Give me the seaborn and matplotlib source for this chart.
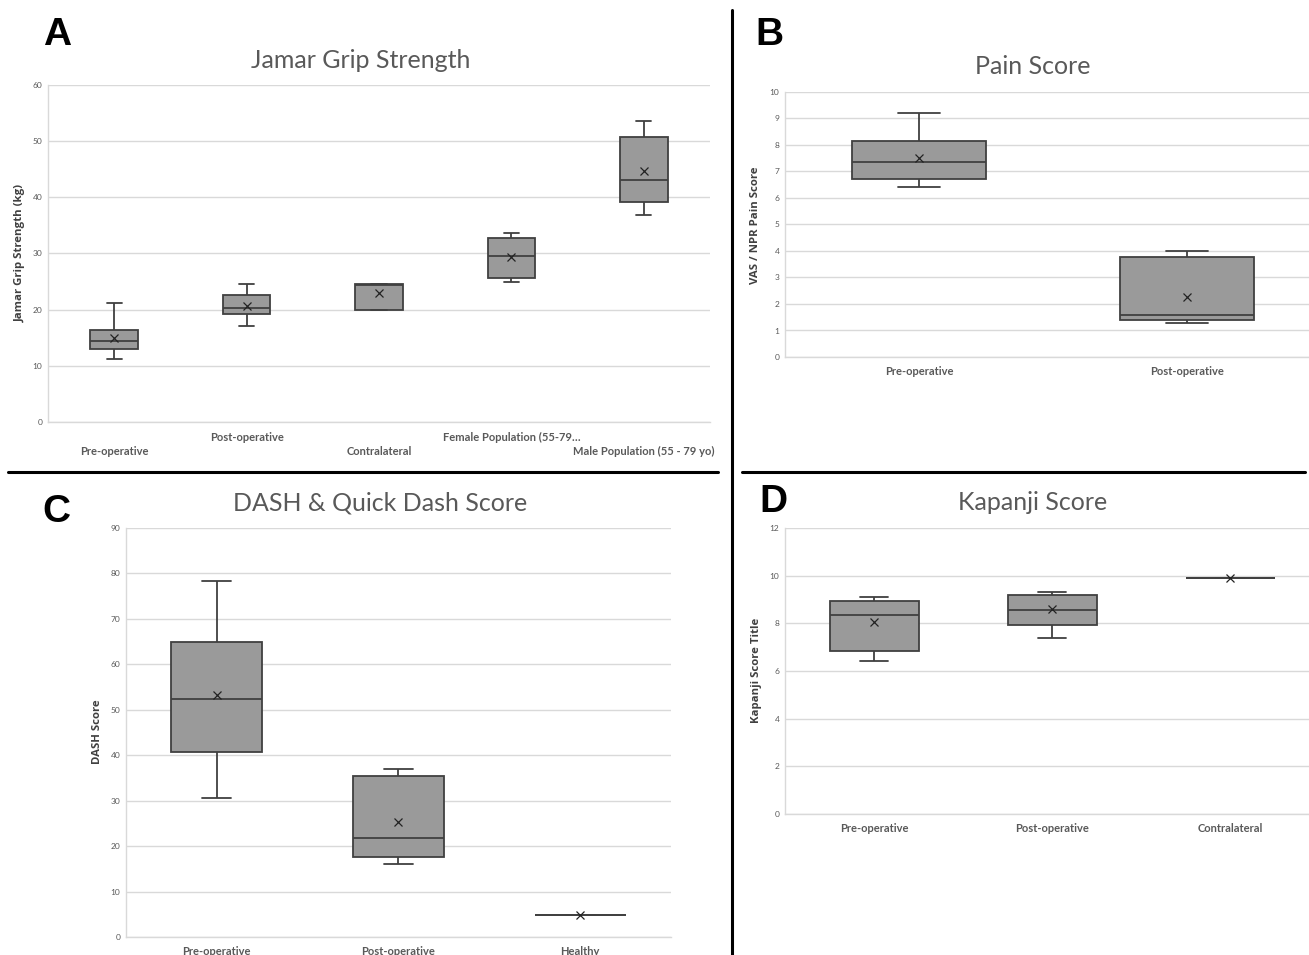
import numpy as np
import pandas as pd
import matplotlib
matplotlib.use("Agg")
import matplotlib.pyplot as plt
import seaborn as sns

# Panel A - Jamar grip strength (kg)
grip_groups = ["Pre-operative", "Post-operative", "Contralateral",
               "Female Population (55-79…", "Male Population (55 - 79 yo)"]
grip_min = [11.3, 17.1, 20.0, 25.0, 36.8]
grip_q1 = [13.0, 19.2, 20.0, 25.7, 39.2]
grip_median = [14.4, 20.3, 24.4, 29.5, 43.1]
grip_q3 = [16.4, 22.6, 24.6, 32.8, 50.8]
grip_max = [21.1, 24.5, 24.6, 33.6, 53.6]
grip_mean = [15.0, 20.6, 23.0, 29.4, 44.6]

# Panel B - pain score
pain_groups = ["Pre-operative", "Post-operative"]
pain_min = [6.4, 1.3]
pain_q1 = [6.7, 1.38]
pain_median = [7.35, 1.57]
pain_q3 = [8.15, 3.78]
pain_max = [9.2, 4.0]
pain_mean = [7.5, 2.25]

# Panel C - DASH score
dash_groups = ["Pre-operative", "Post-operative", "Healthy"]
dash_min = [30.6, 16.1, 4.9]
dash_q1 = [40.8, 17.6, 4.9]
dash_median = [52.3, 21.7, 4.9]
dash_q3 = [65.0, 35.5, 4.9]
dash_max = [78.4, 37.0, 4.9]
dash_mean = [53.2, 25.3, 4.9]

# Panel D - Kapanji score
kap_groups = ["Pre-operative", "Post-operative", "Contralateral"]
kap_min = [6.4, 7.4, 9.9]
kap_q1 = [6.85, 7.95, 9.9]
kap_median = [8.35, 8.55, 9.9]
kap_q3 = [8.95, 9.2, 9.9]
kap_max = [9.1, 9.3, 9.9]
kap_mean = [8.05, 8.6, 9.9]

W, H = 1309, 955
BOX_FILL = "#9a9a9a"
BOX_LINE = "#404040"
GRID = "#d9d9d9"
TEXT = "#595959"

sns.set_style("white")
plt.rcParams["font.family"] = ["Lato", "DejaVu Sans"]

fig = plt.figure(figsize=(W / 100, H / 100), dpi=100)


def px_axes(left, top, right, bottom):
    return fig.add_axes([left / W, 1 - bottom / H, (right - left) / W, (bottom - top) / H])


def draw_panel(ax, groups, mins, q1s, meds, q3s, maxs, means, ymax, ystep, width, stagger=False):
    rows = []
    for g, a, b, c, d, e in zip(groups, mins, q1s, meds, q3s, maxs):
        for v in (a, b, c, d, e):
            rows.append({"group": g, "value": v})
    box_df = pd.DataFrame(rows)
    mean_df = pd.DataFrame({"group": groups, "value": means})

    sns.boxplot(data=box_df, x="group", y="value", order=groups, whis=(0, 100),
                width=width, color=BOX_FILL, linecolor=BOX_LINE, linewidth=1.3,
                saturation=1, showfliers=False, capwidths=0.32 * width, ax=ax)
    sns.pointplot(data=mean_df, x="group", y="value", order=groups, errorbar=None,
                  color="#222222", marker="x", linestyle="none", markersize=5.5,
                  markeredgewidth=0.9, zorder=6, ax=ax)

    ax.set_xlim(-0.5, len(groups) - 0.5)
    ax.set_ylim(0, ymax)
    ax.set_yticks(np.arange(0, ymax + ystep / 2, ystep))
    lab_kw = dict(fontsize=8, fontweight="bold", color=TEXT)
    if stagger:
        # Excel staggers long category names on two rows
        low = list(range(0, len(groups), 2))
        high = list(range(1, len(groups), 2))
        ax.set_xticks(low)
        ax.set_xticklabels([groups[i] for i in low], **lab_kw)
        ax.set_xticks(high, minor=True)
        ax.set_xticklabels([groups[i] for i in high], minor=True, **lab_kw)
        ax.tick_params(axis="x", which="major", length=0, pad=17)
        ax.tick_params(axis="x", which="minor", length=0, pad=7)
    else:
        ax.set_xticks(range(len(groups)))
        ax.set_xticklabels(groups, **lab_kw)
        ax.tick_params(axis="x", length=0, pad=6.5)
    ax.tick_params(axis="y", labelsize=6, colors=TEXT, length=0, pad=4)
    ax.set_xlabel("")
    ax.set_ylabel("")
    ax.yaxis.grid(True, color=GRID, linewidth=1.0)
    ax.set_axisbelow(True)
    for side in ("top", "right"):
        ax.spines[side].set_visible(False)
    for side in ("left", "bottom"):
        ax.spines[side].set_color(GRID)
        ax.spines[side].set_linewidth(1.0)


def panel_text(letter, lx, ly, title, tx, ty, ylabel, yx, yy):
    fig.text(lx / W, 1 - ly / H, letter, ha="center", va="center", fontsize=28,
             fontweight="bold", color="black", family=["Liberation Sans", "DejaVu Sans"])
    fig.text(tx / W, 1 - ty / H, title, ha="center", va="center", fontsize=18,
             color=TEXT, family=["Lato", "DejaVu Sans"])
    fig.text(yx / W, 1 - yy / H, ylabel, ha="center", va="center", rotation=90,
             fontsize=8.2, fontweight="bold", color="#404040",
             family=["Open Sans", "DejaVu Sans"])


# A
ax_a = px_axes(48, 85, 710, 422)
draw_panel(ax_a, grip_groups, grip_min, grip_q1, grip_median, grip_q3, grip_max,
           grip_mean, 60, 10, 0.36, stagger=True)
panel_text("A", 57, 35, "Jamar Grip Strength", 361, 60, "Jamar Grip Strength (kg)", 20, 253)

# B
ax_b = px_axes(785, 92, 1321, 357)
draw_panel(ax_b, pain_groups, pain_min, pain_q1, pain_median, pain_q3, pain_max,
           pain_mean, 10, 1, 0.5)
panel_text("B", 769, 35, "Pain Score", 1033, 67, "VAS / NPR Pain Score", 756, 225)

# C
ax_c = px_axes(126, 528, 671, 937)
draw_panel(ax_c, dash_groups, dash_min, dash_q1, dash_median, dash_q3, dash_max,
           dash_mean, 90, 10, 0.5)
panel_text("C", 56, 512, "DASH & Quick Dash Score", 380, 503, "DASH Score", 97, 732)

# D
ax_d = px_axes(785, 528, 1319, 814)
draw_panel(ax_d, kap_groups, kap_min, kap_q1, kap_median, kap_q3, kap_max,
           kap_mean, 12, 2, 0.5)
panel_text("D", 773, 502, "Kapanji Score", 1033, 503, "Kapanji Score Title", 756, 670)

# separators between panels
for (x0, y0, x1, y1) in [(732, 10, 732, 955), (8, 472, 718, 472), (742, 472, 1305, 472)]:
    fig.add_artist(plt.Line2D([x0 / W, x1 / W], [1 - y0 / H, 1 - y1 / H],
                              transform=fig.transFigure, color="black", linewidth=2.2))

fig.savefig("out.png", dpi=100)
